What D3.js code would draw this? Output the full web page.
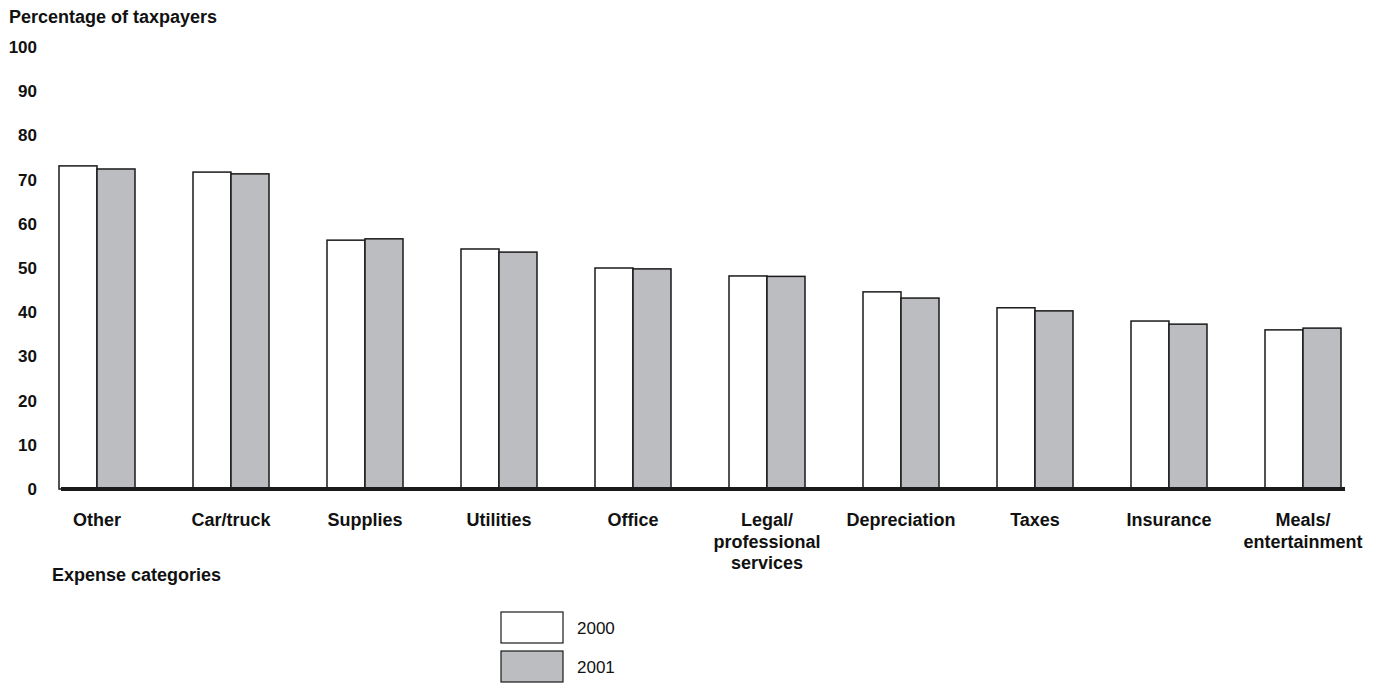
<!DOCTYPE html>
<html>
<head>
<meta charset="utf-8">
<script src="https://cdn.jsdelivr.net/npm/d3@7.9.0/dist/d3.min.js"></script>
<style>
  body { margin: 0; background: #fff; }
  svg { display: block; }
  text { font-family: "Liberation Sans", Arial, sans-serif; fill: #111; }
  .bold { font-weight: bold; }
</style>
</head>
<body>
<svg id="chart" width="1380" height="688"></svg>
<script>
// data
const categories = ['Other', 'Car/truck', 'Supplies', 'Utilities', 'Office',
  'Legal/\nprofessional\nservices', 'Depreciation', 'Taxes', 'Insurance', 'Meals/\nentertainment'];
const years = ['2000', '2001'];
const values2000 = [73.1, 71.7, 56.3, 54.3, 50.0, 48.2, 44.6, 41.0, 38.0, 36.0];
const values2001 = [72.4, 71.3, 56.6, 53.6, 49.8, 48.1, 43.2, 40.3, 37.3, 36.4];
const yTicks = [0, 10, 20, 30, 40, 50, 60, 70, 80, 90, 100];
const colors = ['#ffffff', '#bcbdc1'];

const svg = d3.select('#chart');

const x = d3.scaleBand().domain(categories).range([59, 1341])
  .paddingInner(58 / 134).paddingOuter(0);
const xSub = d3.scaleBand().domain(years).range([0, x.bandwidth()]);
const y = d3.scaleLinear().domain([0, 100]).range([489, 47]);

// y tick labels (no axis line, just numbers)
svg.append('g').selectAll('text').data(yTicks).join('text')
  .attr('class', 'bold')
  .attr('x', 37)
  .attr('y', d => y(d))
  .attr('dy', '0.35em')
  .attr('text-anchor', 'end')
  .style('font-size', '17px')
  .text(d => d);

svg.append('text').attr('class', 'bold')
  .attr('x', 9).attr('y', 23)
  .style('font-size', '18px')
  .text('Percentage of taxpayers');

// bars
const series = [values2000, values2001];
const groups = svg.append('g').selectAll('g').data(categories).join('g')
  .attr('transform', d => `translate(${x(d)},0)`);

groups.selectAll('rect')
  .data((c, i) => years.map((yr, k) => ({ yr, v: series[k][i], k })))
  .join('rect')
  .attr('x', d => xSub(d.yr))
  .attr('y', d => y(d.v))
  .attr('width', xSub.bandwidth())
  .attr('height', d => y(0) - y(d.v))
  .attr('fill', d => colors[d.k])
  .attr('stroke', '#1a1a1a')
  .attr('stroke-width', 1.5);

// baseline
svg.append('line')
  .attr('x1', 61).attr('x2', 1345)
  .attr('y1', y(0)).attr('y2', y(0))
  .attr('stroke', '#1a1a1a').attr('stroke-width', 4);

// category labels, multi-line
const lab = svg.append('g').selectAll('text').data(categories).join('text')
  .attr('class', 'bold')
  .attr('text-anchor', 'middle')
  .style('font-size', '18px')
  .attr('transform', d => `translate(${x(d) + x.bandwidth() / 2},526)`);
lab.selectAll('tspan').data(d => d.split('\n')).join('tspan')
  .attr('x', 0)
  .attr('dy', (d, i) => i ? 21.5 : 0)
  .text(d => d);

svg.append('text').attr('class', 'bold')
  .attr('x', 52).attr('y', 581)
  .style('font-size', '18px')
  .text('Expense categories');

// legend
const leg = svg.append('g').selectAll('g').data(years).join('g')
  .attr('transform', (d, i) => `translate(501,${612 + i * 39})`);
leg.append('rect')
  .attr('width', 62).attr('height', 31)
  .attr('fill', (d, i) => colors[i])
  .attr('stroke', '#1a1a1a').attr('stroke-width', 1.2);
leg.append('text')
  .attr('x', 76).attr('y', 16).attr('dy', '0.35em')
  .style('font-size', '17px')
  .text(d => d);
</script>
</body>
</html>
